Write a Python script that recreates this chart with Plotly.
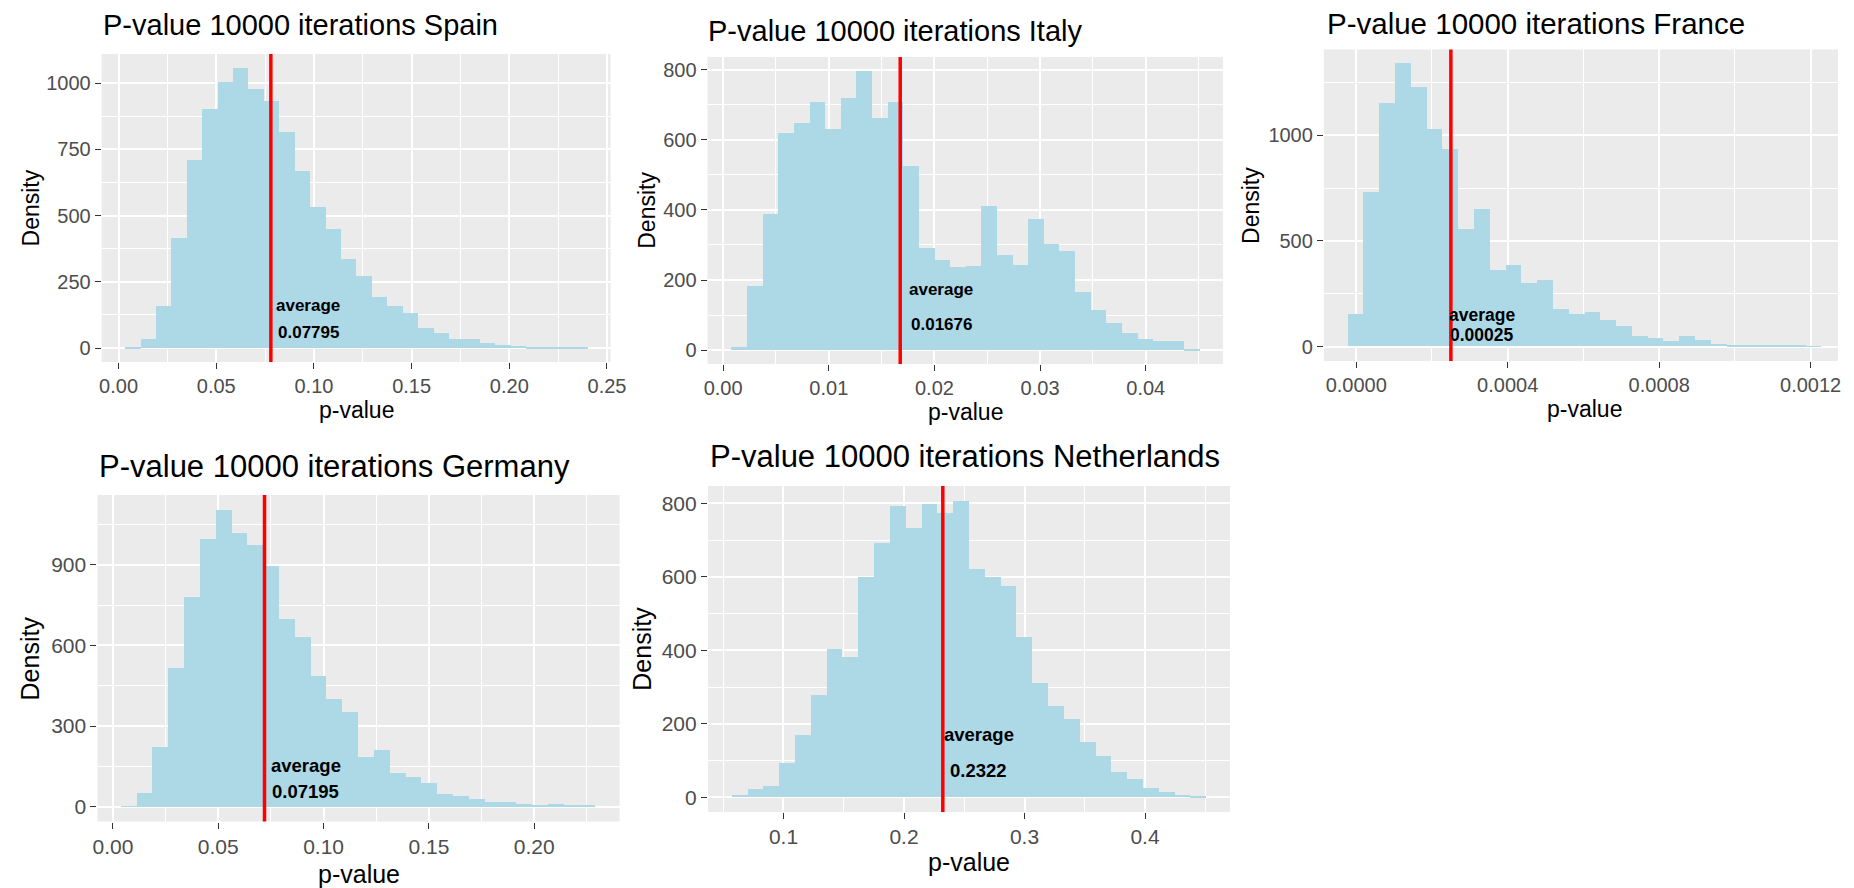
import numpy as np
import plotly.graph_objects as go

# ---------------------------------------------------------------------------
# Histogram data: 30 bins per country, counts over 10000 simulated p-values
# ---------------------------------------------------------------------------
countries = ["Spain", "Italy", "France", "Germany", "Netherlands"]

spain_counts = [4, 33, 158, 416, 712, 904, 1004, 1058, 979, 934,
                817, 669, 533, 448, 335, 274, 194, 159, 132, 77,
                58, 33, 33, 20, 13, 8, 4, 3, 3, 2]
italy_counts = [10, 184, 388, 620, 649, 709, 630, 719, 797, 662,
                709, 526, 291, 258, 236, 239, 410, 272, 243, 374,
                304, 284, 165, 115, 78, 50, 31, 26, 26, 3]
france_counts = [151, 730, 1151, 1338, 1225, 1027, 932, 556, 651, 360,
                 386, 298, 313, 179, 151, 163, 127, 95, 48, 40,
                 24, 48, 32, 11, 5, 4, 4, 3, 3, 2]
germany_counts = [2, 50, 223, 518, 780, 996, 1105, 1018, 975, 896,
                  699, 633, 487, 400, 354, 184, 211, 127, 112, 87,
                  47, 40, 27, 16, 16, 9, 4, 9, 4, 3]
netherlands_counts = [6, 22, 31, 93, 168, 278, 403, 383, 599, 692,
                      793, 732, 798, 775, 807, 621, 599, 576, 435, 312,
                      249, 212, 150, 112, 68, 50, 26, 13, 7, 3]

# outer edges of the 30 bins
bin_lo = [0.0032, 0.00074, -0.0000228, 0.0039, 0.057]
bin_hi = [0.2400, 0.0451, 0.001228, 0.2293, 0.4508]

# mean p-value per country
averages = [0.07795, 0.01676, 0.00025, 0.07195, 0.2322]

# where the "average" / value labels sit (data units)
label_x = [0.0972, 0.02066, 0.000333, 0.0915, 0.2619]
label_avg_y = [161, 172, 151, 155, 172]
label_val_y = [60, 72, 56, 58, 74]

# axis tick spacing and formats
x_dtick = [0.05, 0.01, 0.0004, 0.05, 0.1]
x_format = [".2f", ".2f", ".4f", ".2f", ".1f"]
y_dtick = [250, 200, 500, 300, 200]

counts_by_country = [spain_counts, italy_counts, france_counts,
                     germany_counts, netherlands_counts]

# ---------------------------------------------------------------------------
# Page geometry (pixels): panel boxes (left, top, right, bottom),
# title anchors (left, middle) and text sizes for each small multiple
# ---------------------------------------------------------------------------
W, H = 1854, 888
panel_box = [
    (97.8, 53.9, 612.5, 362.0),
    (710.6, 57.0, 1232.0, 364.0),
    (1334.0, 49.4, 1861.0, 361.0),
    (93.5, 495.0, 621.7, 821.5),
    (711.0, 486.0, 1239.0, 812.0),
]
title_pos = [(97, 25), (709, 31), (1335, 24), (93, 466), (711, 456)]
title_size = [29, 29, 29.5, 31, 31]
tick_size = [20, 20, 20, 21, 21]
axis_title_size = [23, 23, 23, 25, 25]
label_size = [17, 17, 17.5, 18.5, 18.5]
xtitle_gap = [48, 48, 48, 52, 50]      # panel bottom -> "p-value" centre
ytitle_gap = [72, 61, 74, 68, 67]      # "Density" centre -> panel left

FONT = "Liberation Sans, Arial, sans-serif"
BAR_COLOR = "#ADD8E6"
PANEL_BG = "#EBEBEB"

fig = go.Figure()
annotations = []
shapes = []
layout_axes = {}

for i, country in enumerate(countries):
    counts = np.asarray(counts_by_country[i], dtype=float)
    edges = np.linspace(bin_lo[i], bin_hi[i], len(counts) + 1)
    centers = 0.5 * (edges[:-1] + edges[1:])
    width = edges[1] - edges[0]

    suffix = "" if i == 0 else str(i + 1)
    xname, yname = "x" + suffix, "y" + suffix

    fig.add_trace(go.Bar(
        x=centers, y=counts, width=width,
        marker=dict(color=BAR_COLOR, line=dict(width=0)),
        xaxis=xname, yaxis=yname, showlegend=False, hoverinfo="skip",
    ))

    # ggplot-style 5% expansion on both scales
    span = bin_hi[i] - bin_lo[i]
    xr = [bin_lo[i] - 0.05 * span, bin_hi[i] + 0.05 * span]
    ymax = counts.max()
    yr = [-0.05 * ymax, 1.05 * ymax]

    left, top, right, bottom = panel_box[i]
    p_center_x = 0.5 * (left + right)
    if right > W:  # panel runs off the page edge: keep scale, clip range
        xr[1] = xr[0] + (xr[1] - xr[0]) * (W - left) / (right - left)
        right = W

    common = dict(
        showgrid=True, gridcolor="white", gridwidth=1.8,
        zeroline=False, showline=False,
        ticks="outside", ticklen=6, tickwidth=1.4, tickcolor="#333333",
        tickfont=dict(family=FONT, size=tick_size[i], color="#4D4D4D"),
        fixedrange=True,
    )
    layout_axes["xaxis" + suffix] = dict(
        domain=[left / W, right / W], range=xr, anchor=yname,
        tick0=0, dtick=x_dtick[i], tickformat=x_format[i],
        minor=dict(tick0=0, dtick=x_dtick[i] / 2, showgrid=True,
                   gridcolor="white", gridwidth=1.0, ticks=""),
        **common,
    )
    layout_axes["yaxis" + suffix] = dict(
        domain=[1 - bottom / H, 1 - top / H], range=yr, anchor=xname,
        tick0=0, dtick=y_dtick[i],
        minor=dict(tick0=0, dtick=y_dtick[i] / 2, showgrid=True,
                   gridcolor="white", gridwidth=1.0, ticks=""),
        **common,
    )

    # red line at the mean
    shapes.append(dict(
        type="line", xref=xname, yref=yname + " domain",
        x0=averages[i], x1=averages[i], y0=0, y1=1,
        line=dict(color="#FF0000", width=3.5), layer="above",
    ))

    # mean labels
    for txt, yy in (("average", label_avg_y[i]), (str(averages[i]), label_val_y[i])):
        annotations.append(dict(
            text=txt, xref=xname, yref=yname, x=label_x[i], y=yy,
            xanchor="center", yanchor="middle", showarrow=False,
            font=dict(family=FONT, size=label_size[i], color="black",
                      weight="bold"),
        ))

    # panel title
    tx, ty = title_pos[i]
    annotations.append(dict(
        text=f"P-value 10000 iterations {country}",
        xref="paper", yref="paper", x=tx / W, y=1 - ty / H,
        xanchor="left", yanchor="middle", showarrow=False,
        font=dict(family=FONT, size=title_size[i], color="black"),
    ))

    # axis titles
    annotations.append(dict(
        text="p-value", xref="paper", yref="paper",
        x=p_center_x / W, y=1 - (bottom + xtitle_gap[i]) / H,
        xanchor="center", yanchor="middle", showarrow=False,
        font=dict(family=FONT, size=axis_title_size[i], color="black"),
    ))
    annotations.append(dict(
        text="Density", xref="paper", yref="paper", textangle=-90,
        x=(left - ytitle_gap[i]) / W, y=1 - 0.5 * (top + bottom) / H,
        xanchor="center", yanchor="middle", showarrow=False,
        font=dict(family=FONT, size=axis_title_size[i], color="black"),
    ))

fig.update_layout(
    width=W, height=H,
    margin=dict(l=0, r=0, t=0, b=0),
    paper_bgcolor="white", plot_bgcolor=PANEL_BG,
    barmode="overlay", bargap=0,
    annotations=annotations, shapes=shapes,
    font=dict(family=FONT),
    **layout_axes,
)

fig.write_html("out.html", config={"displayModeBar": False})
